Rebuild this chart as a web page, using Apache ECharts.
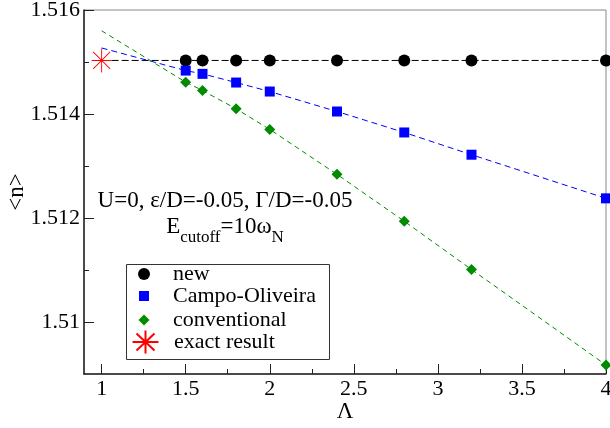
<!DOCTYPE html>
<html><head><meta charset="utf-8">
<script src="https://cdn.jsdelivr.net/npm/echarts@6/dist/echarts.min.js"></script>
<style>html,body{margin:0;padding:0;background:#fff}#c{width:610px;height:428px}</style>
</head><body><div id="c"></div>
<script>
// ---- data ----
const lambdaPts = [1.5, 1.6, 1.8, 2, 2.4, 2.8, 3.2, 4];
const nNew = [1.51503, 1.51503, 1.51503, 1.51503, 1.51503, 1.51503, 1.51503, 1.51503];
const nCampo = [1.514835, 1.514772, 1.514605, 1.514432, 1.514048, 1.513645, 1.513217, 1.512378];
const nConv = [1.514612, 1.514451, 1.514100, 1.513703, 1.512839, 1.511937, 1.511010, 1.509173];
const lambdaExact = [1];
const nExact = [1.51503];
// dashed fit / extrapolation curves
const newFitX = [1, 4];
const newFitY = [1.51503, 1.51503];
const campoFitX = [1, 1.5, 1.6, 1.8, 2, 2.4, 2.8, 3.2, 4];
const campoFitY = [1.51527, 1.514835, 1.514772, 1.514605, 1.514432, 1.514048, 1.513645, 1.513217, 1.512378];
const convFitX = [1, 1.5, 1.6, 1.8, 2, 2.4, 2.8, 3.2, 4];
const convFitY = [1.51560, 1.514612, 1.514451, 1.514100, 1.513703, 1.512839, 1.511937, 1.511010, 1.509173];
// ticks
const xTicks = [1, 1.5, 2, 2.5, 3, 3.5, 4];
const xMinorTicks = [1.25, 1.75, 2.25, 2.75, 3.25, 3.75];
const yTicks = [1.51, 1.512, 1.514, 1.516];
const yMinorTicks = [1.511, 1.513, 1.515];

const zip = (a, b) => a.map((v, i) => [v, b[i]]);
const FONT = "Liberation Serif";
const STAR = 'path://M0,-12L0,12M-10,0L10,0M-8.5,-8.5L8.5,8.5M-8.5,8.5L8.5,-8.5';
const STAR_LEG = 'path://M0,-11.5L0,11.5M-13,0L13,0M-9,-8.5L9,8.5M-9,8.5L9,-8.5';

const axisCol = '#222';

function legendFor(name, icon, w, h, left, top, pad) {
  return {
    data: [{name: name, icon: icon}],
    orient: 'vertical', left: left, top: top, padding: 0,
    itemWidth: w, itemHeight: h, selectedMode: false,
    textStyle: {fontFamily: FONT, fontSize: 22, lineHeight: 22, color: '#000', padding: [0, 0, 0, pad]}
  };
}

const chart = echarts.init(document.getElementById('c'), null, {renderer: 'canvas'});
chart.setOption({
  animation: false,
  backgroundColor: '#fff',
  grid: [
    {left: 84, right: 4, top: 10, bottom: 54, outerBoundsMode: 'none', show: true, borderColor: '#888', borderWidth: 1},
    {left: 84, right: 4, top: 10, bottom: 54, outerBoundsMode: 'none'}
  ],
  xAxis: [
    {
      type: 'value', gridIndex: 0, min: 0.895, max: 4,
      axisLine: {onZero: false, lineStyle: {color: axisCol, width: 1.5}},
      axisTick: {inside: true, length: 10, customValues: xTicks, lineStyle: {color: axisCol, width: 1}},
      axisLabel: {customValues: xTicks, fontFamily: FONT, fontSize: 22, color: '#000', margin: 4},
      splitLine: {show: false},
      name: 'Λ', nameLocation: 'middle', nameGap: 26, nameMoveOverlap: false,
      nameTextStyle: {fontFamily: FONT, fontSize: 23, color: '#000'}
    },
    {
      type: 'value', gridIndex: 1, min: 0.895, max: 4,
      axisLine: {show: false, onZero: false},
      axisTick: {inside: true, length: 5, customValues: xMinorTicks, lineStyle: {color: axisCol, width: 1}},
      axisLabel: {show: false}, splitLine: {show: false}
    }
  ],
  yAxis: [
    {
      type: 'value', gridIndex: 0, min: 1.509, max: 1.516,
      axisLine: {show: true, onZero: false, lineStyle: {color: axisCol, width: 1.5}},
      axisTick: {show: true, inside: true, length: 10, customValues: yTicks, lineStyle: {color: axisCol, width: 1}},
      axisLabel: {customValues: yTicks, fontFamily: FONT, fontSize: 22, color: '#000', margin: 4},
      splitLine: {show: false},
      name: '<n>', nameLocation: 'middle', nameGap: 56, nameRotate: 90, nameMoveOverlap: false,
      nameTextStyle: {fontFamily: FONT, fontSize: 23, color: '#000'}
    },
    {
      type: 'value', gridIndex: 1, min: 1.509, max: 1.516,
      axisLine: {show: false, onZero: false},
      axisTick: {show: true, inside: true, length: 5, customValues: yMinorTicks, lineStyle: {color: axisCol, width: 1}},
      axisLabel: {show: false}, splitLine: {show: false}
    }
  ],
  legend: [
    legendFor('new', 'circle', 12, 12, 138, 263, 18),
    legendFor('Campo-Oliveira', 'rect', 10, 10, 139, 285, 19),
    legendFor('conventional', 'diamond', 11, 11, 138.5, 309, 18.5),
    legendFor('exact result', STAR_LEG, 26, 24, 131.5, 329.5, 10.5)
  ],
  graphic: [
    {type: 'rect', z: 3, shape: {x: 126.5, y: 264.5, width: 203, height: 95}, style: {fill: '#fff', stroke: '#333', lineWidth: 1}},
    {type: 'text', z: 5, x: 225, y: 189,
      style: {
        text: '{m|U=0, ε/D=-0.05, Γ/D=-0.05}\n{m|E}{s|cutoff}{m|=10ω}{s|N}',
        align: 'center', verticalAlign: 'top', fill: '#000',
        rich: {
          m: {fontFamily: FONT, fontSize: 23, lineHeight: 26, verticalAlign: 'top', fill: '#000'},
          s: {fontFamily: FONT, fontSize: 17, lineHeight: 17, padding: [14, 0, 0, 0], verticalAlign: 'top', fill: '#000'}
        }
      }
    }
  ],
  series: [
    {name: 'new fit', type: 'line', data: zip(newFitX, newFitY), symbol: 'none', silent: true, z: 2,
      lineStyle: {color: '#000', width: 1, type: [7, 3]}},
    {name: 'Campo fit', type: 'line', data: zip(campoFitX, campoFitY), symbol: 'none', silent: true, z: 2,
      lineStyle: {color: '#0000ff', width: 1, type: [6, 4]}},
    {name: 'conv fit', type: 'line', data: zip(convFitX, convFitY), symbol: 'none', silent: true, z: 2,
      lineStyle: {color: '#008b00', width: 1, type: [5, 4]}},
    {name: 'new', type: 'scatter', data: zip(lambdaPts, nNew), symbol: 'circle', symbolSize: 12, z: 3,
      itemStyle: {color: '#000', opacity: 1}},
    {name: 'Campo-Oliveira', type: 'scatter', data: zip(lambdaPts, nCampo), symbol: 'rect', symbolSize: 10, z: 3,
      itemStyle: {color: '#0000ff', opacity: 1}},
    {name: 'conventional', type: 'scatter', data: zip(lambdaPts, nConv), symbol: 'diamond', symbolSize: 11, z: 3,
      itemStyle: {color: '#008b00', opacity: 1}},
    {name: 'exact result', type: 'scatter', data: zip(lambdaExact, nExact), symbol: STAR, symbolSize: [20, 24], z: 3,
      itemStyle: {color: 'rgba(0,0,0,0)', borderColor: '#ff0000', borderWidth: 1, opacity: 1}}
  ]
});
</script>
</body></html>
